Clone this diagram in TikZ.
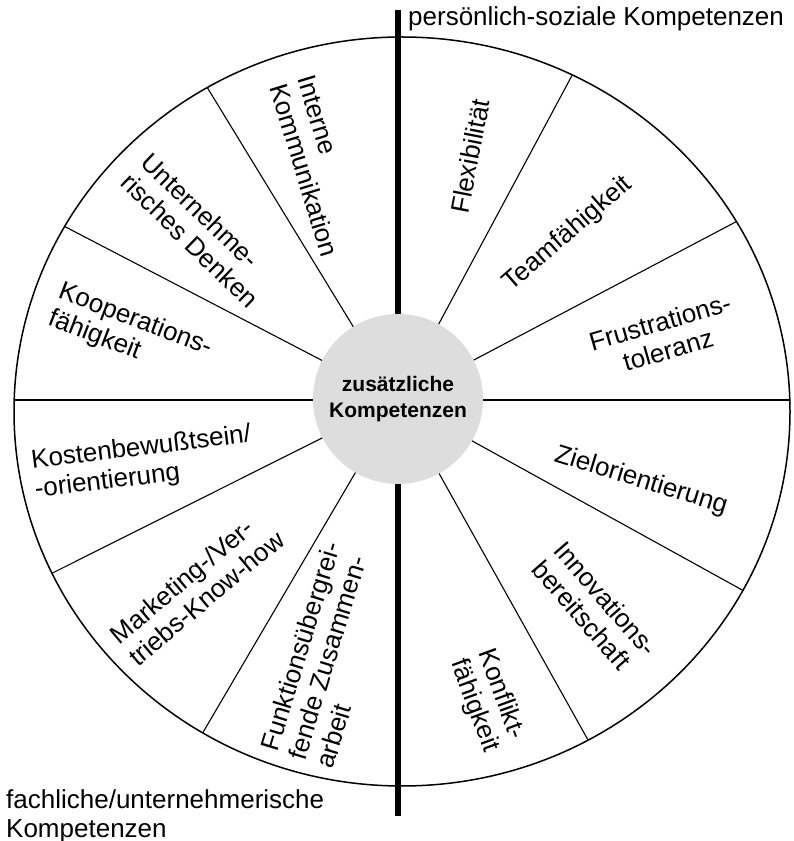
\documentclass[tikz,border=0pt]{standalone}
\usepackage{fontspec}
\setmainfont{Liberation Sans}
\usetikzlibrary{calc}
\definecolor{hubgray}{RGB}{221,221,221}

\begin{document}
\begin{tikzpicture}[x=1pt, y=1pt,
  lbl/.style = {font=\fontsize{26}{29}\selectfont, inner sep=0, align=left},
  hub/.style = {circle, fill=hubgray, minimum size=170pt, inner sep=0, align=center, font=\bfseries\fontsize{21}{26}\selectfont}]

\useasboundingbox (0,0) rectangle (793,841);

\coordinate (c) at (398,441);
\coordinate (e) at (402,429.5);

% segment lines, cut at the rim
\begin{scope}
\clip (e) ellipse [x radius=388pt, y radius=374.5pt];
\foreach \a in {61.8,27.8,0,-28.9,-60.8,-120.4,206.6,180,152.5,121.4}
  \draw [line width=1.1pt] (c) -- ($(c)+(\a:500)$);
\end{scope}

\draw [line width=1.5pt] (e) ellipse [x radius=388pt, y radius=374.5pt];
\draw [line width=6pt] (398,831) -- (398,25);

\node[hub](hub) at (398,442){zusätzliche\\Kompetenzen};

\node[lbl, rotate=79](flex) at (470,685){Flexibilität};
\node[lbl, rotate=41](team) at (568,607){Teamfähigkeit};
\node[lbl, rotate=16, align=center](frust) at (664,505){Frustrations-\\toleranz};
\node[lbl, rotate=-17](ziel) at (641,360){Zielorientierung};
\node[lbl, rotate=-49](innov) at (595,233){Innovations-\\bereitschaft};
\node[lbl, rotate=-70](konfl) at (488,140){Konflikt-\\fähigkeit};

\node[lbl, rotate=73](funkt) at (328,186){Funktionsübergrei-\\fende Zusammen-\\arbeit};
\node[lbl, rotate=40](mark) at (197,254){Marketing-/Ver-\\triebs-Know-how};
\node[lbl, rotate=7](kost) at (143,378){Kostenbewußtsein/\\-orientierung};
\node[lbl, rotate=-21](koop) at (130,507){Kooperations-\\fähigkeit};
\node[lbl, rotate=-44](unt) at (200,611){Unternehme-\\risches Denken};
\node[lbl, rotate=-73](intern) at (318,675){Interne\\Kommunikation};

\node[lbl, anchor=base west](pers) at (408,815){persönlich-soziale Kompetenzen};
\node[lbl, anchor=north west](fach) at (6,52){fachliche/unternehmerische\\Kompetenzen};

\end{tikzpicture}
\end{document}
